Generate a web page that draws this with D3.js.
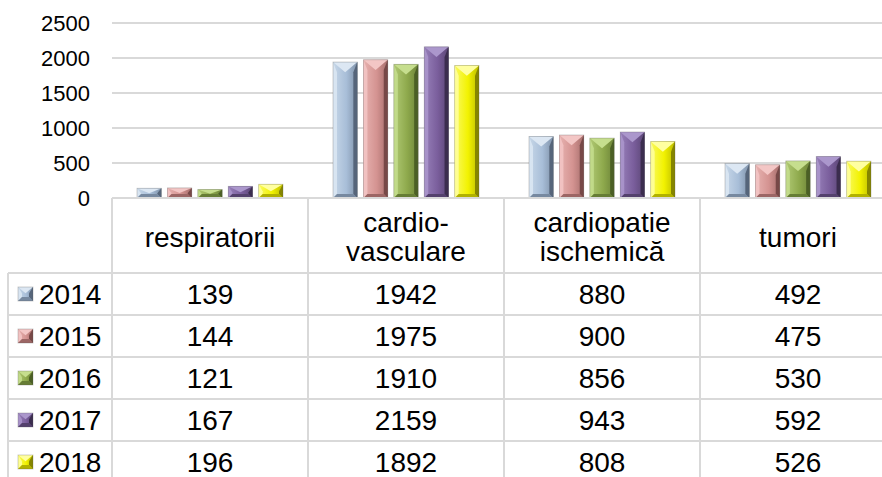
<!DOCTYPE html>
<html>
<head>
<meta charset="utf-8">
<script src="https://cdn.jsdelivr.net/npm/d3@7"></script>
<style>
  body { margin: 0; background: #fff; }
  text { font-family: "Liberation Sans", Arial, sans-serif; fill: #000; }
</style>
</head>
<body>
<div id="vis"></div>
<script>
var categories = ["respiratorii", "cardio-\nvasculare", "cardiopatie\nischemică", "tumori"];
var years = ["2014", "2015", "2016", "2017", "2018"];
var v2014 = [139, 1942, 880, 492];
var v2015 = [144, 1975, 900, 475];
var v2016 = [121, 1910, 856, 530];
var v2017 = [167, 2159, 943, 592];
var v2018 = [196, 1892, 808, 526];
var yTicks = [0, 500, 1000, 1500, 2000, 2500];

var series = [v2014, v2015, v2016, v2017, v2018];

// bevel colours per year: light, base, dark
var colors = [
    {light: "#dce7f3", base: "#a8bed8", dark: "#56657a"},
    {light: "#f3c6c5", base: "#d49391", dark: "#774847"},
    {light: "#c6de8e", base: "#8ea94c", dark: "#4b5f25"},
    {light: "#ab97cc", base: "#7a5e9c", dark: "#3b2d4e"},
    {light: "#ffffa0", base: "#f2f200", dark: "#858500"}
];

var width = 882, height = 477;
var left = 112, catW = 196;
var rowTop = 273, rowH = 42;

var svg = d3.select("#vis").append("svg")
    .attr("width", width)
    .attr("height", height);

var defs = svg.append("defs");
colors.forEach(function (c, i) {
    var gr = defs.append("linearGradient").attr("id", "g" + i)
        .attr("x1", "0%").attr("x2", "100%").attr("y1", "0%").attr("y2", "0%");
    gr.append("stop").attr("offset", "0%").attr("stop-color", d3.interpolateRgb(c.light, c.base)(0.4));
    gr.append("stop").attr("offset", "55%").attr("stop-color", c.base);
    gr.append("stop").attr("offset", "100%").attr("stop-color", d3.interpolateRgb(c.base, c.dark)(0.5));
});

var x = d3.scaleBand()
    .domain(categories)
    .range([left, left + catW * categories.length]);

var xs = d3.scaleBand()
    .domain(years)
    .range([25, 171])
    .paddingInner(0.2);

var y = d3.scaleLinear()
    .domain([0, 2500])
    .range([198, 23]);

// gridlines
svg.append("g").selectAll("line")
    .data(yTicks.slice(1))
    .enter().append("line")
    .attr("x1", left).attr("x2", width)
    .attr("y1", d => y(d)).attr("y2", d => y(d))
    .attr("stroke", "#d9d9d9").attr("stroke-width", 2);

// y tick labels
svg.append("g").selectAll("text")
    .data(yTicks)
    .enter().append("text")
    .attr("x", 90)
    .attr("y", d => y(d))
    .attr("dy", "0.35em")
    .attr("text-anchor", "end")
    .style("font-size", "22px")
    .text(d => d);

function bevel(g, bx, by, w, h, i) {
    var c = colors[i];
    var b = Math.min(4, w / 2, h / 2);
    var tt = Math.min(w * 0.42, h / 2);
    g.append("rect").attr("x", bx).attr("y", by).attr("width", w).attr("height", h)
        .attr("fill", "url(#g" + i + ")");
    g.append("polygon")
        .attr("points", [[bx, by], [bx + b, by + tt], [bx + b, by + h - b], [bx, by + h]].join(" "))
        .attr("fill", c.light).attr("opacity", 0.85);
    g.append("polygon")
        .attr("points", [[bx + w, by], [bx + w - b, by + tt], [bx + w - b, by + h - b], [bx + w, by + h]].join(" "))
        .attr("fill", c.dark);
    g.append("polygon")
        .attr("points", [[bx, by + h], [bx + w, by + h], [bx + w - b, by + h - b], [bx + b, by + h - b]].join(" "))
        .attr("fill", d3.interpolateRgb(c.base, c.dark)(0.6));
    g.append("polygon")
        .attr("points", [[bx, by], [bx + w, by], [bx + w / 2, by + tt]].join(" "))
        .attr("fill", c.light);
    g.append("rect").attr("x", bx).attr("y", by).attr("width", w).attr("height", h)
        .attr("fill", "none").attr("stroke", "#555").attr("stroke-opacity", 0.35).attr("stroke-width", 0.8);
}

// bars
var bars = svg.append("g");
series.forEach(function (vals, i) {
    vals.forEach(function (v, j) {
        var bx = x(categories[j]) + xs(years[i]);
        bevel(bars.append("g"), bx, y(v), xs.bandwidth(), y(0) - y(v), i);
    });
});

// table lines
var grid = svg.append("g").attr("stroke", "#d9d9d9").attr("stroke-width", 2);
grid.append("line").attr("x1", left).attr("x2", width).attr("y1", y(0)).attr("y2", y(0));
for (var r = 0; r <= years.length; r++) {
    grid.append("line").attr("x1", 8).attr("x2", width)
        .attr("y1", rowTop + r * rowH).attr("y2", rowTop + r * rowH);
}
grid.append("line").attr("x1", 8).attr("x2", 8).attr("y1", rowTop).attr("y2", height);
categories.forEach(function (c) {
    grid.append("line").attr("x1", x(c)).attr("x2", x(c)).attr("y1", y(0)).attr("y2", height);
});

// header labels
categories.forEach(function (c) {
    var lines = c.split("\n");
    var cx = x(c) + x.bandwidth() / 2;
    var t = svg.append("text")
        .attr("text-anchor", "middle")
        .style("font-size", "28px");
    var y0 = 237 - (lines.length - 1) * 29 / 2;
    lines.forEach(function (l, k) {
        t.append("tspan").attr("x", cx).attr("y", y0 + k * 29).attr("dy", "0.35em").text(l);
    });
});

// rows
years.forEach(function (yr, i) {
    var cy = rowTop + i * rowH + rowH / 2;
    bevel(svg.append("g"), 18, cy - 7, 15, 14, i);
    svg.append("text").attr("x", 39).attr("y", cy).attr("dy", "0.35em")
        .style("font-size", "28px").text(yr);
    series[i].forEach(function (v, j) {
        svg.append("text")
            .attr("x", x(categories[j]) + x.bandwidth() / 2)
            .attr("y", cy).attr("dy", "0.35em")
            .attr("text-anchor", "middle")
            .style("font-size", "28px")
            .text(v);
    });
});
</script>
</body>
</html>
